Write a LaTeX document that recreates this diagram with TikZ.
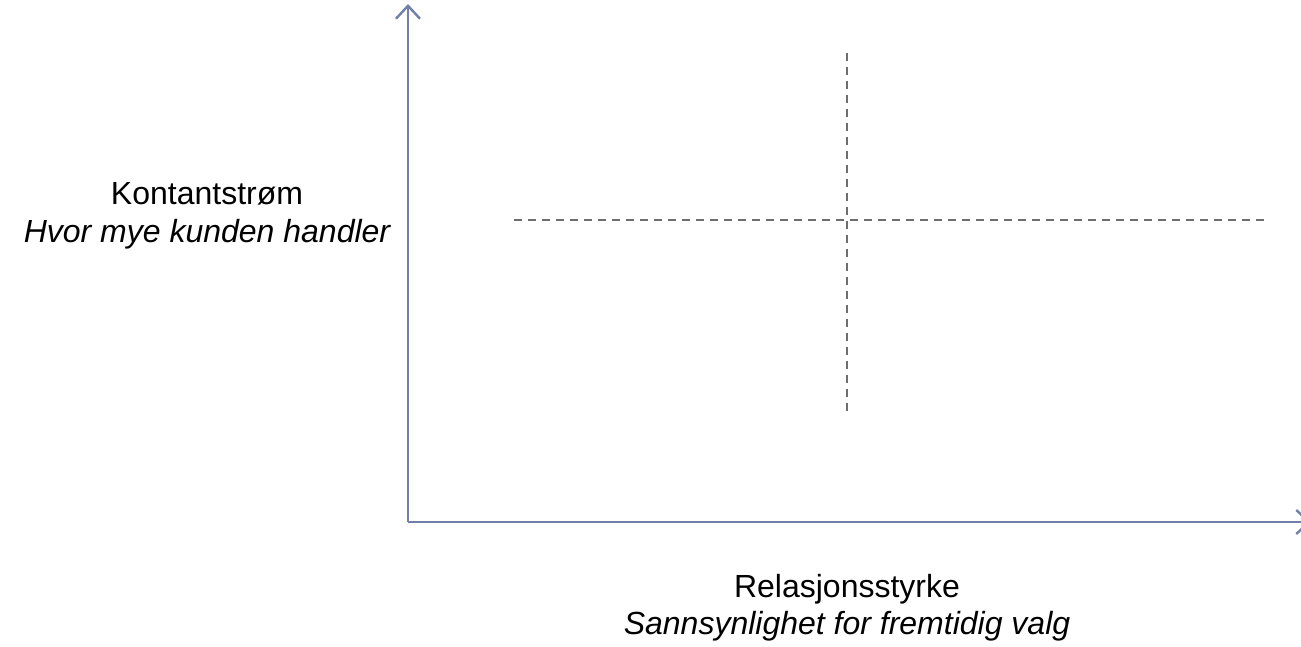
\documentclass[tikz,border=0pt]{standalone}
\usepackage{fontspec}
\setmainfont{Liberation Sans}
\usetikzlibrary{arrows.meta}
\definecolor{axiscol}{RGB}{112,128,168}
\definecolor{dashcol}{RGB}{110,110,110}
\begin{document}
\begin{tikzpicture}[x=1pt,y=-1pt,
  axisline/.style={draw=axiscol,line width=2.6pt,-{Straight Barb[length=13pt,width=24pt,line width=2.4pt]}},
  dashline/.style={draw=dashcol,line width=1.6pt,dash pattern=on 8pt off 6pt},
  lbl/.style={anchor=base,inner sep=0pt,font=\fontsize{32}{36}\selectfont},
  sublbl/.style={anchor=base,inner sep=0pt,font=\fontsize{32}{36}\selectfont\itshape}]
\useasboundingbox (0,0) rectangle (1301,647);
\coordinate (origin) at (408,522);
\coordinate (ytop) at (408,4);
\coordinate (xend) at (1311,522);
\coordinate (hl) at (514,220);
\coordinate (hr) at (1265,220);
\coordinate (vt) at (847,53);
\coordinate (vb) at (847,412);
\draw[dashline] (hl) -- (hr);
\draw[dashline] (vt) -- (vb);
\draw[axisline] (origin) -- (ytop);
\draw[axisline] (origin) -- (xend);
\node[lbl] (ylab) at (207,205) {Kontantstrøm};
\node[sublbl] (ysub) at (207,243) {Hvor mye kunden handler};
\node[lbl] (xlab) at (847,597) {Relasjonsstyrke};
\node[sublbl] (xsub) at (847,634) {Sannsynlighet for fremtidig valg};
\end{tikzpicture}
\end{document}
